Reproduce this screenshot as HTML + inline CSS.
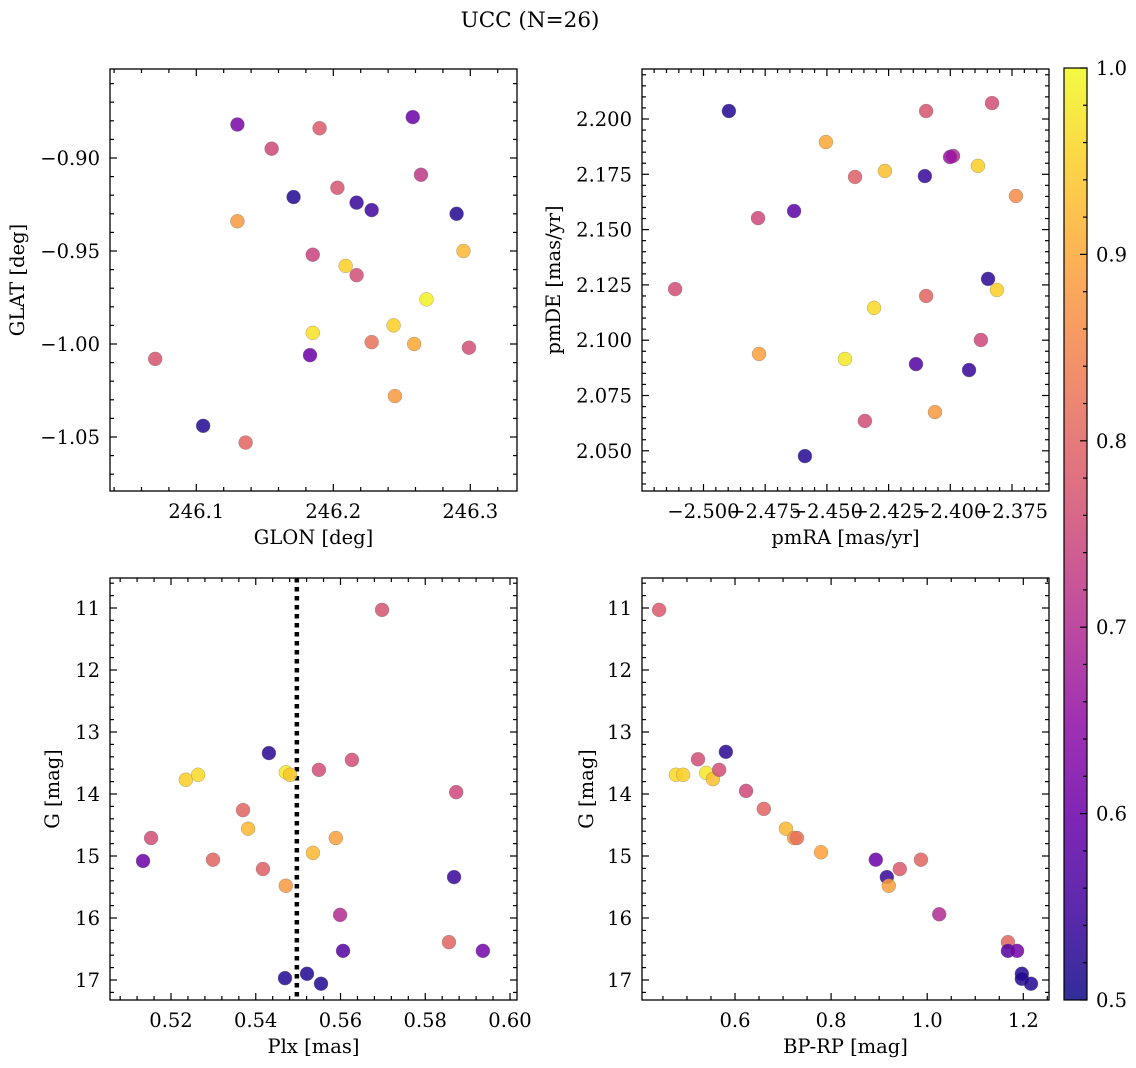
<!DOCTYPE html>
<html><head><meta charset="utf-8"><style>
html,body{margin:0;padding:0;background:#fff;}
svg{display:block;font-family:"DejaVu Serif","Liberation Serif",serif;}
</style></head><body>
<svg id="fig" width="1136" height="1068" viewBox="0 0 1136 1068" xmlns="http://www.w3.org/2000/svg">
<text x="530" y="27" font-size="21.5" text-anchor="middle">UCC (N=26)</text>
</svg>
<script>
// ---- Panel 1: GLON / GLAT ----
const glon = [246.130,246.155,246.190,246.258,246.264,246.203,246.171,246.217,246.228,246.290,246.130,246.185,246.209,246.217,246.295,246.268,246.185,246.244,246.070,246.183,246.228,246.259,246.299,246.245,246.105,246.136];
const glat = [-0.882,-0.895,-0.884,-0.878,-0.909,-0.916,-0.921,-0.924,-0.928,-0.930,-0.934,-0.952,-0.958,-0.963,-0.950,-0.976,-0.994,-0.990,-1.008,-1.006,-0.999,-1.000,-1.002,-1.028,-1.044,-1.053];
const c1 = [0.62,0.75,0.78,0.60,0.72,0.77,0.52,0.54,0.55,0.52,0.88,0.74,0.95,0.76,0.92,0.99,0.97,0.95,0.77,0.60,0.82,0.90,0.76,0.88,0.52,0.80];
const glonTicks = [246.1,246.2,246.3];
const glatTicks = [-0.90,-0.95,-1.00,-1.05];
// ---- Panel 2: pmRA / pmDE ----
const pmra = [-2.4897,-2.4504,-2.4098,-2.3831,-2.3989,-2.4001,-2.3888,-2.4265,-2.4386,-2.4103,-2.3734,-2.4779,-2.4633,-2.5115,-2.3847,-2.3811,-2.4309,-2.4098,-2.4775,-2.4427,-2.3876,-2.4139,-2.3924,-2.4062,-2.4346,-2.4589];
const pmde = [2.2036,2.1896,2.2036,2.2072,2.1833,2.1828,2.1788,2.1765,2.1738,2.1742,2.1652,2.1552,2.1584,2.1231,2.1277,2.1227,2.1146,2.1200,2.0938,2.0915,2.1001,2.0892,2.0865,2.0675,2.0635,2.0476];
const c2 = [0.52,0.90,0.77,0.76,0.70,0.66,0.95,0.93,0.79,0.54,0.86,0.75,0.58,0.76,0.53,0.95,0.96,0.80,0.89,0.98,0.75,0.57,0.54,0.88,0.76,0.52];
const pmraTicks = [-2.500,-2.475,-2.450,-2.425,-2.400,-2.375];
const pmdeTicks = [2.200,2.175,2.150,2.125,2.100,2.075,2.050];
// ---- Panel 3: Plx / G ----
const plx = [0.5698,0.5431,0.5235,0.5264,0.5471,0.5481,0.5549,0.5627,0.5873,0.5370,0.5382,0.5153,0.5134,0.5299,0.5589,0.5535,0.5417,0.5471,0.5868,0.5599,0.5856,0.5606,0.5936,0.5469,0.5521,0.5554];
const g3 = [11.03,13.34,13.77,13.69,13.65,13.69,13.61,13.45,13.97,14.26,14.56,14.71,15.08,15.06,14.71,14.95,15.21,15.48,15.34,15.95,16.39,16.53,16.53,16.97,16.90,17.06];
const c3 = [0.77,0.53,0.95,0.96,0.98,0.94,0.76,0.76,0.75,0.80,0.92,0.76,0.60,0.80,0.89,0.92,0.79,0.88,0.54,0.70,0.80,0.57,0.61,0.52,0.52,0.52];
const plxRef = [0.5497];
const plxTicks = [0.52,0.54,0.56,0.58,0.60];
const gTicks = [11,12,13,14,15,16,17];
// ---- Panel 4: BP-RP / G ----
const bprp = [0.442,0.523,0.581,0.477,0.492,0.540,0.554,0.567,0.623,0.660,0.706,0.723,0.729,0.779,0.893,0.943,0.987,0.916,0.920,1.025,1.168,1.168,1.187,1.197,1.197,1.216];
const g4 = [11.03,13.44,13.32,13.69,13.69,13.66,13.76,13.61,13.95,14.24,14.56,14.71,14.71,14.94,15.06,15.21,15.06,15.34,15.48,15.94,16.39,16.53,16.53,16.90,16.98,17.06];
const c4 = [0.78,0.76,0.53,0.96,0.95,0.98,0.93,0.76,0.75,0.80,0.92,0.88,0.82,0.89,0.60,0.78,0.80,0.54,0.89,0.70,0.80,0.57,0.61,0.52,0.52,0.52];
const bprpTicks = [0.6,0.8,1.0,1.2];
// ---- Colorbar ----
const cbTicks = [0.5,0.6,0.7,0.8,0.9,1.0];

const NS = "http://www.w3.org/2000/svg";
const svg = document.getElementById('fig');
function mk(tag, attrs, parent){const e=document.createElementNS(NS,tag);for(const k in attrs)e.setAttribute(k,attrs[k]);(parent||svg).appendChild(e);return e;}

const stops=[[13,8,135],[65,4,157],[106,0,168],[143,13,164],[177,42,144],[204,71,120],[225,100,98],[242,132,75],[252,166,54],[252,206,37],[240,249,33]];
function plasma(t){t=Math.max(0,Math.min(1,t));const p=t*10;const i=Math.min(9,Math.floor(p));const f=p-i;const a=stops[i],b=stops[i+1];
return 'rgb('+[0,1,2].map(k=>Math.round(a[k]+(b[k]-a[k])*f)).join(',')+')';}
function cmap(v){return plasma((v-0.5)/0.5);}

function fmt(v,d){let s=v.toFixed(d);if(v<0)s='\u2212'+s.slice(1);return s;}
const FS=19.5;

function panel(o){
  const {x0,y0,x1,y1,xmin,xmax,ymin,ymax,invertY,name}=o;
  const g=mk('g',{});
  
  
  const X=v=>x0+(v-xmin)/(xmax-xmin)*(x1-x0);
  const Y=invertY?(v=>y0+(v-ymin)/(ymax-ymin)*(y1-y0)):(v=>y1-(v-ymin)/(ymax-ymin)*(y1-y0));
  const tg=mk('g',{stroke:'#000','stroke-width':1.2},g);
  const minX=o.xMinorStep, minY=o.yMinorStep;
  for(let v=Math.ceil(xmin/minX)*minX; v<=xmax+1e-9; v+=minX){const px=X(v);
    const isMaj=o.xTicks.some(t=>Math.abs(t-v)<minX/3);const L=isMaj?7:4;
    mk('line',{x1:px,y1:y1,x2:px,y2:y1-L},tg);mk('line',{x1:px,y1:y0,x2:px,y2:y0+L},tg);}
  for(let v=Math.ceil(ymin/minY)*minY; v<=ymax+1e-9; v+=minY){const py=Y(v);
    const isMaj=o.yTicks.some(t=>Math.abs(t-v)<minY/3);const L=isMaj?7:4;
    mk('line',{x1:x0,y1:py,x2:x0+L,y2:py},tg);mk('line',{x1:x1,y1:py,x2:x1-L,y2:py},tg);}
  o.xTicks.forEach(t=>{const tx=mk('text',{x:X(t),y:y1+27,'font-size':FS,'text-anchor':'middle'},g);tx.textContent=fmt(t,o.xDec);
    
    });
  o.yTicks.forEach(t=>{const tx=mk('text',{x:x0-10,y:Y(t)+7,'font-size':FS,'text-anchor':'end'},g);tx.textContent=fmt(t,o.yDec);
    
    });
  const xl=mk('text',{x:(x0+x1)/2,y:y1+53,'font-size':FS,'text-anchor':'middle'},g);xl.textContent=o.xLabel;
  
  
  const yl=mk('text',{x:o.yLabelX,y:(y0+y1)/2,'font-size':FS,'text-anchor':'middle',transform:'rotate(-90 '+o.yLabelX+' '+(y0+y1)/2+')'},g);yl.textContent=o.yLabel;
  
  
  if(o.vline){o.vline.forEach(v=>{const l=mk('line',{x1:X(v),y1:y0,x2:X(v),y2:y1,stroke:'#000','stroke-width':4.5,'stroke-dasharray':'4.5,4.5'},g);
    
    });}
  o.xs.forEach((xv,i)=>{const c=mk('circle',{cx:X(xv),cy:Y(o.ys[i]),r:7,fill:cmap(o.cs[i]),'fill-opacity':0.85,stroke:'#777','stroke-width':0.5,'stroke-opacity':0.6},g);
    
    });
  const fr=mk('rect',{x:x0,y:y0,width:x1-x0,height:y1-y0,fill:'none',stroke:'#000','stroke-width':1.3},g);
  
  
}

panel({name:'glon-glat',x0:110,y0:69,x1:517,y1:491,xmin:246.1-86.3/1370,xmax:246.3+46.7/1370,ymin:-1.05-54/1860,ymax:-0.90+89/1860,
  xs:glon,ys:glat,cs:c1,xTicks:glonTicks,yTicks:glatTicks,xDec:1,yDec:2,xMinorStep:0.02,yMinorStep:0.01,xLabel:'GLON [deg]',yLabel:'GLAT [deg]',yLabelX:24});
panel({name:'pmra-pmde',x0:642,y0:69,x1:1049,y1:491,xmin:-2.5-61.5/2468,xmax:-2.375+37/2468,ymin:2.2-372/2212,ymax:2.2+50/2212,
  xs:pmra,ys:pmde,cs:c2,xTicks:pmraTicks,yTicks:pmdeTicks,xDec:3,yDec:3,xMinorStep:0.005,yMinorStep:0.005,xLabel:'pmRA [mas/yr]',yLabel:'pmDE [mas/yr]',yLabelX:560});
panel({name:'plx-g',x0:110,y0:578,x1:517,y1:1000,xmin:0.52-61/4237,xmax:0.60+7/4237,ymin:11-30/62,ymax:17+20/62,invertY:true,vline:plxRef,
  xs:plx,ys:g3,cs:c3,xTicks:plxTicks,yTicks:gTicks,xDec:2,yDec:0,xMinorStep:0.004,yMinorStep:0.2,xLabel:'Plx [mas]',yLabel:'G [mag]',yLabelX:59});
panel({name:'bprp-g',x0:642,y0:578,x1:1049,y1:1000,xmin:0.6-93/480.5,xmax:1.2+25.7/480.5,ymin:11-30/62,ymax:17+20/62,invertY:true,
  xs:bprp,ys:g4,cs:c4,xTicks:bprpTicks,yTicks:gTicks,xDec:1,yDec:0,xMinorStep:0.05,yMinorStep:0.2,xLabel:'BP-RP [mag]',yLabel:'G [mag]',yLabelX:593});

(function(){
  const x0=1064,x1=1087,y0=68,y1=1000;
  const defs=mk('defs',{});
  const lg=mk('linearGradient',{id:'cbg',x1:0,y1:1,x2:0,y2:0},defs);
  for(let i=0;i<=20;i++){mk('stop',{offset:i/20,'stop-color':plasma(i/20),'stop-opacity':0.85},lg);}
  const r=mk('rect',{x:x0,y:y0,width:x1-x0,height:y1-y0,fill:'url(#cbg)',stroke:'#000','stroke-width':1.2});
  
  
  const Y=v=>y1-(v-0.5)/0.5*(y1-y0);
  for(let v=0.5;v<=1.0001;v+=0.02){const isMaj=Math.abs(v*10-Math.round(v*10))<0.01;
    mk('line',{x1:x1,y1:Y(v),x2:x1-(isMaj?7:4),y2:Y(v),stroke:'#000','stroke-width':1.2});}
  cbTicks.forEach(t=>{const tx=mk('text',{x:1096,y:Y(t)+7,'font-size':FS});tx.textContent=t.toFixed(1);
    
    });
})();
</script>
</body></html>
